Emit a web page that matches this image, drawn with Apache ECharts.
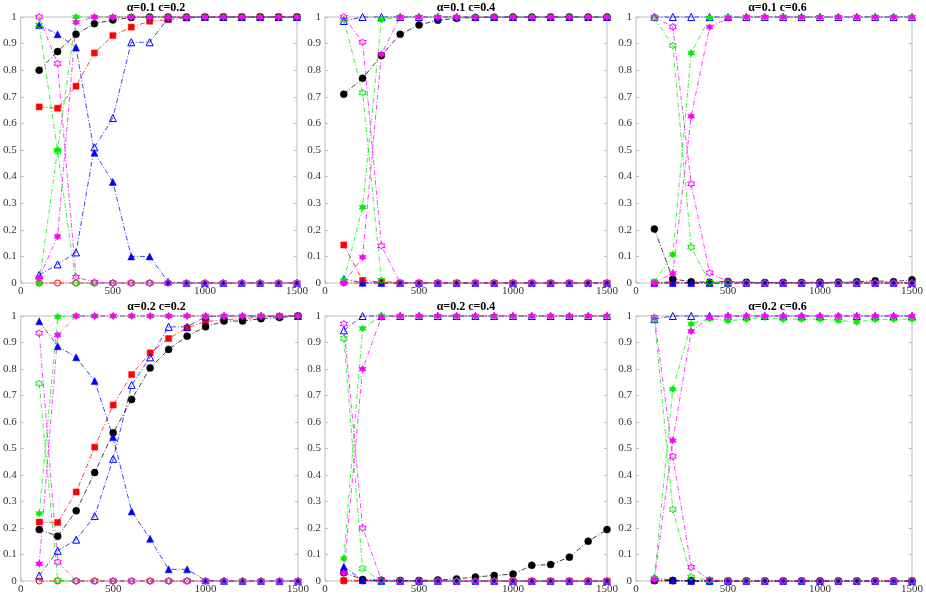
<!DOCTYPE html>
<html>
<head>
<meta charset="utf-8">
<script src="https://cdn.jsdelivr.net/npm/echarts@6/dist/echarts.min.js"></script>
<style>
html,body{margin:0;padding:0;background:#fff;}
#chart{width:926px;height:595px;}
</style>
</head>
<body>
<div id="chart"></div>
<script>
// ---------- DATA ----------
const xValues = [100,200,300,400,500,600,700,800,900,1000,1100,1200,1300,1400,1500];
const panelTitles = ['α=0.1 c=0.2','α=0.1 c=0.4','α=0.1 c=0.6','α=0.2 c=0.2','α=0.2 c=0.4','α=0.2 c=0.6'];
const xTickLabels = ['0','500','1000','1500'];

// one row per panel (panel order: top-left .. bottom-right)
const blackFilled = [
  [0.80,0.87,0.935,0.975,0.989,0.998,1,1,1,1,1,1,1,1,1],
  [0.71,0.77,0.855,0.935,0.97,0.988,0.995,0.998,0.999,1,1,1,1,1,1],
  [0.203,0.015,0.005,0.003,0.006,0.003,0.002,0.002,0.002,0.003,0.003,0.005,0.008,0.005,0.012],
  [0.194,0.169,0.265,0.409,0.559,0.685,0.804,0.874,0.924,0.959,0.981,0.981,0.99,0.994,1],
  [0.031,0.006,0.003,0.002,0.002,0.004,0.008,0.015,0.021,0.026,0.059,0.062,0.09,0.15,0.194],
  [0.003,0.002,0.001,0,0,0,0,0,0,0,0,0,0,0,0]
];
const redSquare = [
  [0.662,0.657,0.74,0.865,0.93,0.962,0.984,0.99,0.996,0.999,1,1,1,1,1],
  [0.143,0.01,0.003,0,0,0,0,0,0,0,0,0,0,0,0],
  [0.001,0.005,0,0,0,0,0,0,0,0,0,0,0,0,0],
  [0.2225,0.221,0.336,0.505,0.664,0.779,0.861,0.915,0.955,0.979,0.986,0.99,0.996,0.999,1],
  [0.002,0.002,0,0,0,0,0,0,0,0,0,0,0,0,0],
  [0.001,0.001,0,0,0,0,0,0,0,0,0,0,0,0,0]
];
const redOpen = [
  [0,0,0,0,0,0,0,0,0,0,0,0,0,0,0],
  [0,0,0,0,0,0,0,0,0,0,0,0,0,0,0],
  [0,0,0,0,0,0,0,0,0,0,0,0,0,0,0],
  [0,0,0,0,0,0,0,0,0,0,0,0,0,0,0],
  [0,0,0,0,0,0,0,0,0,0,0,0,0,0,0],
  [0,0,0,0,0,0,0,0,0,0,0,0,0,0,0]
];
const blueFilled = [
  [0.97,0.935,0.885,0.49,0.38,0.10,0.10,0.005,0,0,0,0,0,0,0],
  [0.015,0.001,0,0,0,0,0,0,0,0,0,0,0,0,0],
  [0,0,0,0,0,0,0,0,0,0,0,0,0,0,0],
  [0.98,0.886,0.844,0.755,0.5425,0.2625,0.159,0.044,0.044,0.002,0,0,0,0,0],
  [0.054,0.003,0,0,0,0,0,0,0,0,0,0,0,0,0],
  [0.012,0.003,0,0,0,0,0,0,0,0,0,0,0,0,0]
];
const blueOpen = [
  [0.03,0.07,0.115,0.51,0.62,0.905,0.905,0.995,1,1,1,1,1,1,1],
  [0.985,1,1,1,1,1,1,1,1,1,1,1,1,1,1],
  [1,1,1,1,1,1,1,1,1,1,1,1,1,1,1],
  [0.02,0.114,0.156,0.245,0.461,0.74,0.844,0.959,0.959,0.998,1,1,1,1,1],
  [0.946,1,1,1,1,1,1,1,1,1,1,1,1,1,1],
  [0.988,1,1,1,1,1,1,1,1,1,1,1,1,1,1]
];
const greenFilled = [
  [0.0,0.5,1,1,1,1,1,1,1,1,1,1,1,1,1],
  [0.01,0.285,0.99,1,1,1,1,1,1,1,1,1,1,1,1],
  [0.005,0.107,0.865,0.997,1,1,1,1,1,1,1,1,1,1,1],
  [0.255,0.997,1,1,1,1,1,1,1,1,1,1,1,1,1],
  [0.085,0.953,1,1,1,1,1,1,1,1,1,1,1,1,1],
  [0.012,0.724,0.97,0.99,0.982,0.988,0.995,0.988,0.988,0.988,0.983,0.977,0.987,0.988,0.988]
];
const greenOpen = [
  [0.97,0.495,0,0,0,0,0,0,0,0,0,0,0,0,0],
  [0.99,0.715,0.01,0,0,0,0,0,0,0,0,0,0,0,0],
  [0.995,0.893,0.135,0.003,0,0,0,0,0,0,0,0,0,0,0],
  [0.745,0.003,0,0,0,0,0,0,0,0,0,0,0,0,0],
  [0.915,0.047,0,0,0,0,0,0,0,0,0,0,0,0,0],
  [0.988,0.27,0.015,0.002,0,0,0,0,0,0,0,0,0,0,0]
];
const magentaFilled = [
  [0.02,0.175,0.98,1,1,1,1,1,1,1,1,1,1,1,1],
  [0,0.097,0.86,1,1,1,1,1,1,1,1,1,1,1,1],
  [0,0.037,0.627,0.962,0.995,1,1,1,1,1,1,1,1,1,1],
  [0.065,0.928,1,1,1,1,1,1,1,1,1,1,1,1,1],
  [0.03,0.80,0.995,1,1,1,1,1,1,1,1,1,1,1,1],
  [0.005,0.53,0.942,0.995,1,1,1,1,1,1,1,1,1,1,1]
];
const magentaOpen = [
  [1,0.825,0.022,0.003,0,0,0,0,0,0,0,0,0,0,0],
  [1,0.905,0.14,0,0,0,0,0,0,0,0,0,0,0,0],
  [1,0.963,0.373,0.038,0.005,0,0,0,0,0,0,0,0,0,0],
  [0.935,0.072,0,0,0,0,0,0,0,0,0,0,0,0,0],
  [0.97,0.2,0.005,0,0,0,0,0,0,0,0,0,0,0,0],
  [0.995,0.47,0.052,0.005,0,0,0,0,0,0,0,0,0,0,0]
];

// ---------- STYLES ----------
const HEX = 'path://M0,-10L2.89,-5L8.66,-5L5.77,0L8.66,5L2.89,5L0,10L-2.89,5L-8.66,5L-5.77,0L-8.66,-5L-2.89,-5Z';
const seriesDefs = [
  {data: redOpen,       color:'#ff0000', symbol:'circle',   size:6, open:true},
  {data: redSquare,     color:'#ff0000', symbol:'rect',     size:6, open:false},
  {data: blackFilled,   color:'#000000', symbol:'circle',   size:7, open:false},
  {data: blueOpen,      color:'#0000ff', symbol:'triangle', size:7, open:true},
  {data: blueFilled,    color:'#0000ff', symbol:'triangle', size:7, open:false},
  {data: greenOpen,     color:'#00ee00', symbol:HEX,        size:7, open:true},
  {data: greenFilled,   color:'#00ee00', symbol:HEX,        size:7, open:false},
  {data: magentaOpen,   color:'#ff00ff', symbol:HEX,        size:7, open:true},
  {data: magentaFilled, color:'#ff00ff', symbol:HEX,        size:7, open:false}
];

const gridPos = [
  {left:15,  top:17,  width:282, height:266},
  {left:325, top:17,  width:282, height:266},
  {left:636, top:17,  width:283, height:266},
  {left:15,  top:316, width:283, height:266},
  {left:325, top:316, width:282, height:266},
  {left:636, top:316, width:283, height:266}
];

const fontFam = '"Liberation Serif","Times New Roman",serif';
const grids = [], xAxes = [], yAxes = [], graphics = [], series = [];
gridPos.forEach((g, i) => {
  grids.push(Object.assign({show:true, borderColor:'#bdbdbd', borderWidth:1, backgroundColor:'#fff'}, g));
  graphics.push({
    type:'text', x: g.left + g.width/2, y: g.top - 3, z: 100,
    style:{text: panelTitles[i], x:0, y:0, textAlign:'center', textVerticalAlign:'bottom',
      font: 'bold 12px ' + fontFam, fill:'#000'}
  });
  xAxes.push({
    type:'value', gridIndex:i, min:0, max:1500, interval:500,
    axisLine:{show:false},
    axisTick:{show:true, inside:true, length:3, lineStyle:{color:'#bdbdbd'}},
    splitLine:{show:false},
    axisLabel:{fontFamily:fontFam, fontSize:11, color:'#333', margin:3,
      formatter: v => xTickLabels[Math.round(v/500)]}
  });
  yAxes.push({
    type:'value', gridIndex:i, min:0, max:1, interval:0.1,
    axisLine:{show:false},
    axisTick:{show:true, inside:true, length:3, lineStyle:{color:'#bdbdbd'}},
    splitLine:{show:false},
    axisLabel:{fontFamily:fontFam, fontSize:11, color:'#333', margin:4,
      formatter: v => String(Math.round(v*10)/10)}
  });
  yAxes.push({
    type:'value', gridIndex:i, min:0, max:1, interval:0.1, position:'right',
    axisLine:{show:false},
    axisTick:{show:true, inside:true, length:3, lineStyle:{color:'#bdbdbd'}},
    splitLine:{show:false}, axisLabel:{show:false}
  });
  seriesDefs.forEach(d => {
    series.push({
      type:'line', xAxisIndex:i, yAxisIndex:i*2,
      data: xValues.map((x, k) => [x, d.data[i][k]]),
      symbol: d.symbol, symbolSize: d.size, showAllSymbol:true,
      clip:false, animation:false,
      lineStyle:{color:d.color, width:1, type:[5,2,1,2], opacity:0.75},
      itemStyle: d.open ? {color:'rgba(255,255,255,0)', borderColor:d.color, borderWidth:1}
                        : {color:d.color, borderColor:d.color, borderWidth:0.5},
      emphasis:{disabled:true}
    });
  });
});

const chart = echarts.init(document.getElementById('chart'), null, {renderer:'canvas'});
chart.setOption({
  animation:false,
  backgroundColor:'#fff',
  grid: grids,
  xAxis: xAxes,
  yAxis: yAxes,
  graphic: graphics,
  series: series
});
</script>
</body>
</html>
